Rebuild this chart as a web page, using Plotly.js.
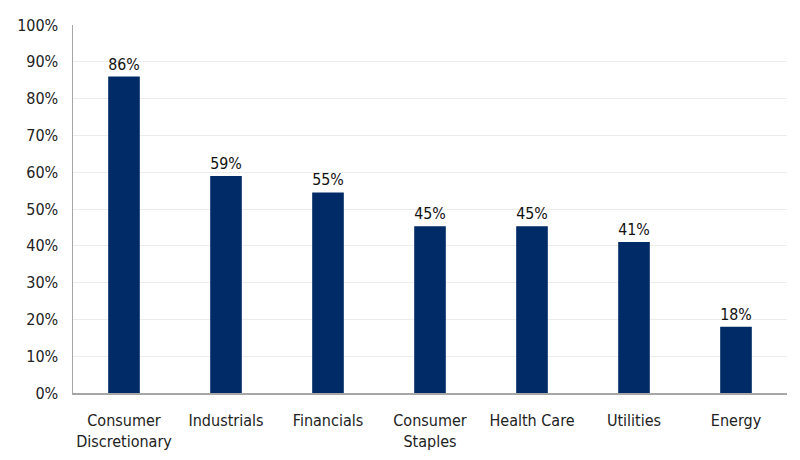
<!DOCTYPE html>
<html>
<head>
<meta charset="utf-8">
<script src="https://cdn.plot.ly/plotly-3.0.1.min.js"></script>
<style>
  html, body { margin: 0; padding: 0; background: #fff; }
  #chart { width: 800px; height: 460px; }
</style>
</head>
<body>
<div id="chart"></div>
<script>
// sectors and share values (fraction)
var sectors = ['Consumer<br>Discretionary', 'Industrials', 'Financials', 'Consumer<br>Staples', 'Health Care', 'Utilities', 'Energy'];
var shares = [0.86, 0.59, 0.545, 0.453, 0.453, 0.41, 0.18];
var labels = ['86%', '59%', '55%', '45%', '45%', '41%', '18%'];

var fontFam = '"Liberation Sans Narrow", "DejaVu Sans Condensed", "Roboto", sans-serif';

var data = [{
	type: 'bar',
	x: sectors,
	y: shares,
	text: labels,
	textposition: 'outside',
	cliponaxis: false,
	textfont: {family: fontFam, size: 16, color: '#111'},
	marker: {color: '#002B66'},
	width: 0.31,
	hoverinfo: 'skip'
}];

var layout = {
	width: 800,
	height: 460,
	margin: {l: 73, r: 13, t: 25, b: 67, pad: 0},
	paper_bgcolor: '#fff',
	plot_bgcolor: '#fff',
	showlegend: false,
	font: {family: fontFam, size: 16, color: '#222'},
	xaxis: {
		showline: true,
		linecolor: '#a6a6a6',
		linewidth: 1.5,
		ticks: 'outside',
		ticklen: 12,
		tickcolor: 'rgba(0,0,0,0)',
		showgrid: false,
		tickfont: {size: 16}
	},
	yaxis: {
		range: [0, 1],
		dtick: 0.1,
		tickformat: '.0%',
		showline: true,
		linecolor: '#a6a6a6',
		linewidth: 1.5,
		gridcolor: '#ececec',
		zeroline: false,
		ticks: 'outside',
		ticklen: 10,
		tickcolor: 'rgba(0,0,0,0)',
		tickfont: {size: 16}
	}
};

Plotly.newPlot('chart', data, layout, {displayModeBar: false, staticPlot: true});
</script>
</body>
</html>
